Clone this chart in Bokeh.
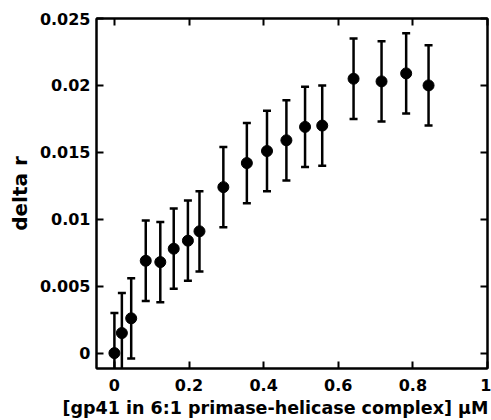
from bokeh.plotting import figure
from bokeh.models import (LinearAxis, FixedTicker, Whisker, TeeHead,
                          ColumnDataSource, Title, Range1d, CustomLabelingPolicy)
from bokeh.embed import file_html
from bokeh.resources import INLINE

# ---- data ----
conc = [0.0, 0.02, 0.045, 0.084, 0.123, 0.159, 0.197, 0.228, 0.292,
        0.355, 0.409, 0.461, 0.511, 0.557, 0.641, 0.716, 0.782, 0.842]
delta_r = [0.0, 0.0015, 0.0026, 0.0069, 0.0068, 0.0078, 0.0084, 0.0091, 0.0124,
           0.0142, 0.0151, 0.0159, 0.0169, 0.0170, 0.0205, 0.0203, 0.0209, 0.0200]
err = [0.003, 0.003, 0.003, 0.003, 0.003, 0.003, 0.003, 0.003, 0.003,
       0.003, 0.003, 0.003, 0.003, 0.003, 0.003, 0.003, 0.003, 0.003]

x_ticks = [0, 0.2, 0.4, 0.6, 0.8, 1.0]
x_tick_labels = ["0", "0.2", "0.4", "0.6", "0.8", "1"]
y_ticks = [0, 0.005, 0.01, 0.015, 0.02, 0.025]
y_tick_labels = ["0", "0.005", "0.01", "0.015", "0.02", "0.025"]

x_title = "[gp41 in 6:1 primase-helicase complex] \u03bcM"
y_title = "delta r"

FONT = "DejaVu Sans"
TICK_FS = "16px"

src = ColumnDataSource(dict(
    conc=conc, delta_r=delta_r,
    upper=[v + e for v, e in zip(delta_r, err)],
    lower=[v - e for v, e in zip(delta_r, err)],
))

W, H = 491, 420
p = figure(width=W, height=H, x_range=Range1d(-0.048, 1.0),
           y_range=Range1d(-0.00115, 0.025),
           output_backend="svg", toolbar_location=None,
           min_border_left=96, min_border_right=4,
           min_border_top=18, min_border_bottom=0)
p.grid.visible = False
p.outline_line_color = "black"
p.outline_line_width = 2
p.background_fill_color = "white"
p.border_fill_color = "white"

no_labels = CustomLabelingPolicy(
    code="for (const i of [...indices]) { indices.unset(i) } return indices")


def style_axis(ax, ticks, labels, show_labels=True, standoff=6):
    ax.ticker = FixedTicker(ticks=ticks)
    ax.major_tick_in = 7
    ax.major_tick_out = 0
    ax.minor_tick_in = 0
    ax.minor_tick_out = 0
    ax.axis_line_width = 2
    ax.axis_line_color = "black"
    ax.major_tick_line_width = 2
    ax.major_tick_line_color = "black"
    ax.major_label_text_font = FONT
    ax.major_label_text_font_style = "bold"
    ax.major_label_text_color = "black"
    ax.major_label_text_font_size = TICK_FS
    if show_labels:
        ax.major_label_overrides = {t: l for t, l in zip(ticks, labels)}
        ax.major_label_standoff = standoff
    else:
        ax.major_label_overrides = {t: "" for t in ticks}
        ax.major_label_policy = no_labels
        ax.major_label_standoff = 0


style_axis(p.xaxis[0], x_ticks, x_tick_labels, standoff=10)
style_axis(p.yaxis[0], y_ticks, y_tick_labels, standoff=6)

p.yaxis[0].axis_label = y_title
p.yaxis[0].axis_label_text_font = FONT
p.yaxis[0].axis_label_text_font_style = "bold"
p.yaxis[0].axis_label_text_font_size = "20px"
p.yaxis[0].axis_label_text_color = "black"
p.yaxis[0].axis_label_standoff = 5

top = LinearAxis()
style_axis(top, x_ticks, x_tick_labels, show_labels=False)
p.add_layout(top, "above")
right = LinearAxis()
style_axis(right, y_ticks, y_tick_labels, show_labels=False)
p.add_layout(right, "right")

p.add_layout(Whisker(base="conc", upper="upper", lower="lower", source=src,
                     line_width=2.5, line_color="black",
                     upper_head=TeeHead(size=8, line_width=2.5, line_color="black"),
                     lower_head=TeeHead(size=8, line_width=2.5, line_color="black")))
p.scatter("conc", "delta_r", source=src, size=11, color="black")

p.add_layout(Title(text=x_title, align="left", offset=-34, standoff=5,
                   text_font=FONT, text_font_style="bold", text_font_size="17.5px",
                   text_color="black"), "below")

open("out.html", "w").write(file_html(p, INLINE))
